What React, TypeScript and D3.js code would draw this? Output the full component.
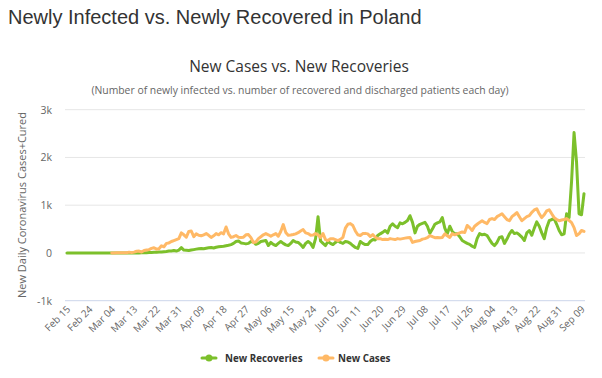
import React from "react";
import * as d3 from "d3";

const xTickLabels = ["Feb 15","Feb 24","Mar 04","Mar 13","Mar 22","Mar 31","Apr 09","Apr 18","Apr 27","May 06","May 15","May 24","Jun 02","Jun 11","Jun 20","Jun 29","Jul 08","Jul 17","Jul 26","Aug 04","Aug 13","Aug 22","Aug 31","Sep 09"];
const tickStep = 9;
const yTicks = [-1000, 0, 1000, 2000, 3000];
const yTickLabels = ["-1k", "0", "1k", "2k", "3k"];

const newRecoveries: number[] = [
  0,0,0,0,0,0,0,0,0,0,
  0,0,0,0,0,0,0,0,0,0,
  0,0,0,0,0,0,0,0,0,0,
  2,5,5,10,10,15,15,20,20,25,
  30,40,40,50,40,60,110,60,55,50,
  60,70,80,90,95,90,100,110,115,105,
  120,130,135,140,150,160,175,200,240,250,
  210,200,190,200,240,230,180,200,240,250,
  260,155,220,180,155,200,240,200,170,155,
  200,260,230,220,175,115,200,240,200,115,
  300,760,250,200,155,240,200,175,220,260,
  220,200,240,230,200,155,115,95,240,200,
  175,175,240,280,270,365,400,430,470,420,
  560,610,560,530,630,610,640,680,780,640,
  420,560,600,620,640,560,410,500,600,630,
  650,740,520,400,560,450,400,400,340,260,
  230,200,180,140,115,300,405,380,390,365,
  280,200,155,220,325,340,200,290,400,470,
  405,420,380,330,260,420,470,370,520,650,
  560,420,300,530,675,700,720,600,470,380,
  400,820,740,1500,2520,1900,820,800,1240
];

const newCases: (number | null)[] = [
  null,null,null,null,null,null,null,null,null,null,
  null,null,null,null,null,null,null,null,1,0,
  3,5,6,5,5,17,7,17,36,40,
  20,50,60,70,95,110,80,90,150,130,
  200,210,240,260,280,300,420,380,330,450,
  460,340,400,370,360,380,405,370,325,360,
  405,380,425,400,545,400,325,340,365,330,
  325,330,380,385,320,220,230,300,340,380,
  405,380,350,380,405,350,450,595,430,370,
  375,385,400,425,460,490,420,405,370,375,
  405,380,325,405,280,260,300,300,280,260,
  285,325,520,600,615,575,460,380,365,405,
  410,400,345,385,330,300,300,280,285,280,
  300,290,280,300,290,300,310,320,325,220,
  240,250,260,290,300,320,365,340,320,325,
  320,325,400,360,325,405,380,400,420,440,
  430,575,530,470,560,600,640,675,640,615,
  700,720,700,760,790,820,760,700,675,760,
  800,845,760,675,720,760,780,850,900,925,
  820,740,800,880,905,820,740,700,675,690,
  700,720,680,635,530,365,400,470,450
];

const GREEN = "#7cc02b";
const ORANGE = "#ffb966";
const FONT = "'Open Sans', 'DejaVu Sans', sans-serif";

export default function App() {
  const n = newRecoveries.length;
  const x = d3.scaleLinear().domain([0, n - 1]).range([67, 584]);
  const y = d3.scaleLinear().domain([-1000, 3000]).range([300.7, 109.7]);

  const lineG = d3.line<number>().x((_, i) => x(i)).y((d) => y(d));
  const lineO = d3
    .line<number | null>()
    .defined((d) => d != null)
    .x((_, i) => x(i))
    .y((d) => y(d as number));

  return (
    <svg width={602} height={378} style={{ position: "absolute", left: 0, top: 0, background: "#fff" }}>
      <rect width={602} height={378} fill="#fff" />
      <text x={8} y={24} fontFamily="'Liberation Sans', Arial, sans-serif" fontSize={20} fill="#333">
        Newly Infected vs. Newly Recovered in Poland
      </text>
      <text x={299} y={72} textAnchor="middle" fontFamily={FONT} fontSize={15.5} fill="#333">
        New Cases vs. New Recoveries
      </text>
      <text x={300} y={94} textAnchor="middle" fontFamily={FONT} fontSize={10.4} fill="#666">
        (Number of newly infected vs. number of recovered and discharged patients each day)
      </text>

      {yTicks.map((t, i) => (
        <g key={t}>
          <line x1={65} x2={585} y1={y(t)} y2={y(t)} stroke={t === -1000 ? "#ccd6eb" : "#e6e6e6"} strokeWidth={1} />
          <text x={52} y={y(t) + 4} textAnchor="end" fontFamily={FONT} fontSize={10.5} fill="#666">
            {yTickLabels[i]}
          </text>
        </g>
      ))}

      <text
        transform={`translate(26, 205) rotate(-90)`}
        textAnchor="middle"
        fontFamily={FONT}
        fontSize={11}
        fill="#666"
      >
        New Daily Coronavirus Cases+Cured
      </text>

      {xTickLabels.map((lab, i) => (
        <text
          key={i}
          transform={`translate(${x(i * tickStep) + 4}, ${310}) rotate(-45)`}
          textAnchor="end"
          fontFamily={FONT}
          fontSize={10}
          fill="#666"
        >
          {lab}
        </text>
      ))}

      <path d={lineG(newRecoveries) || ""} fill="none" stroke={GREEN} strokeWidth={3} strokeLinejoin="round" strokeLinecap="round" />
      <path d={lineO(newCases) || ""} fill="none" stroke={ORANGE} strokeWidth={3} strokeLinejoin="round" strokeLinecap="round" />

      <g transform="translate(0, 358)">
        <line x1={202} x2={216} y1={0} y2={0} stroke={GREEN} strokeWidth={3} strokeLinecap="round" />
        <circle cx={209} cy={0} r={3.5} fill={GREEN} />
        <text x={225} y={3.5} fontFamily={FONT} fontSize={9.8} fontWeight="bold" fill="#333">New Recoveries</text>
        <line x1={319} x2={333} y1={0} y2={0} stroke={ORANGE} strokeWidth={3} strokeLinecap="round" />
        <circle cx={326} cy={0} r={3.5} fill={ORANGE} />
        <text x={338} y={3.5} fontFamily={FONT} fontSize={9.8} fontWeight="bold" fill="#333">New Cases</text>
      </g>
    </svg>
  );
}
